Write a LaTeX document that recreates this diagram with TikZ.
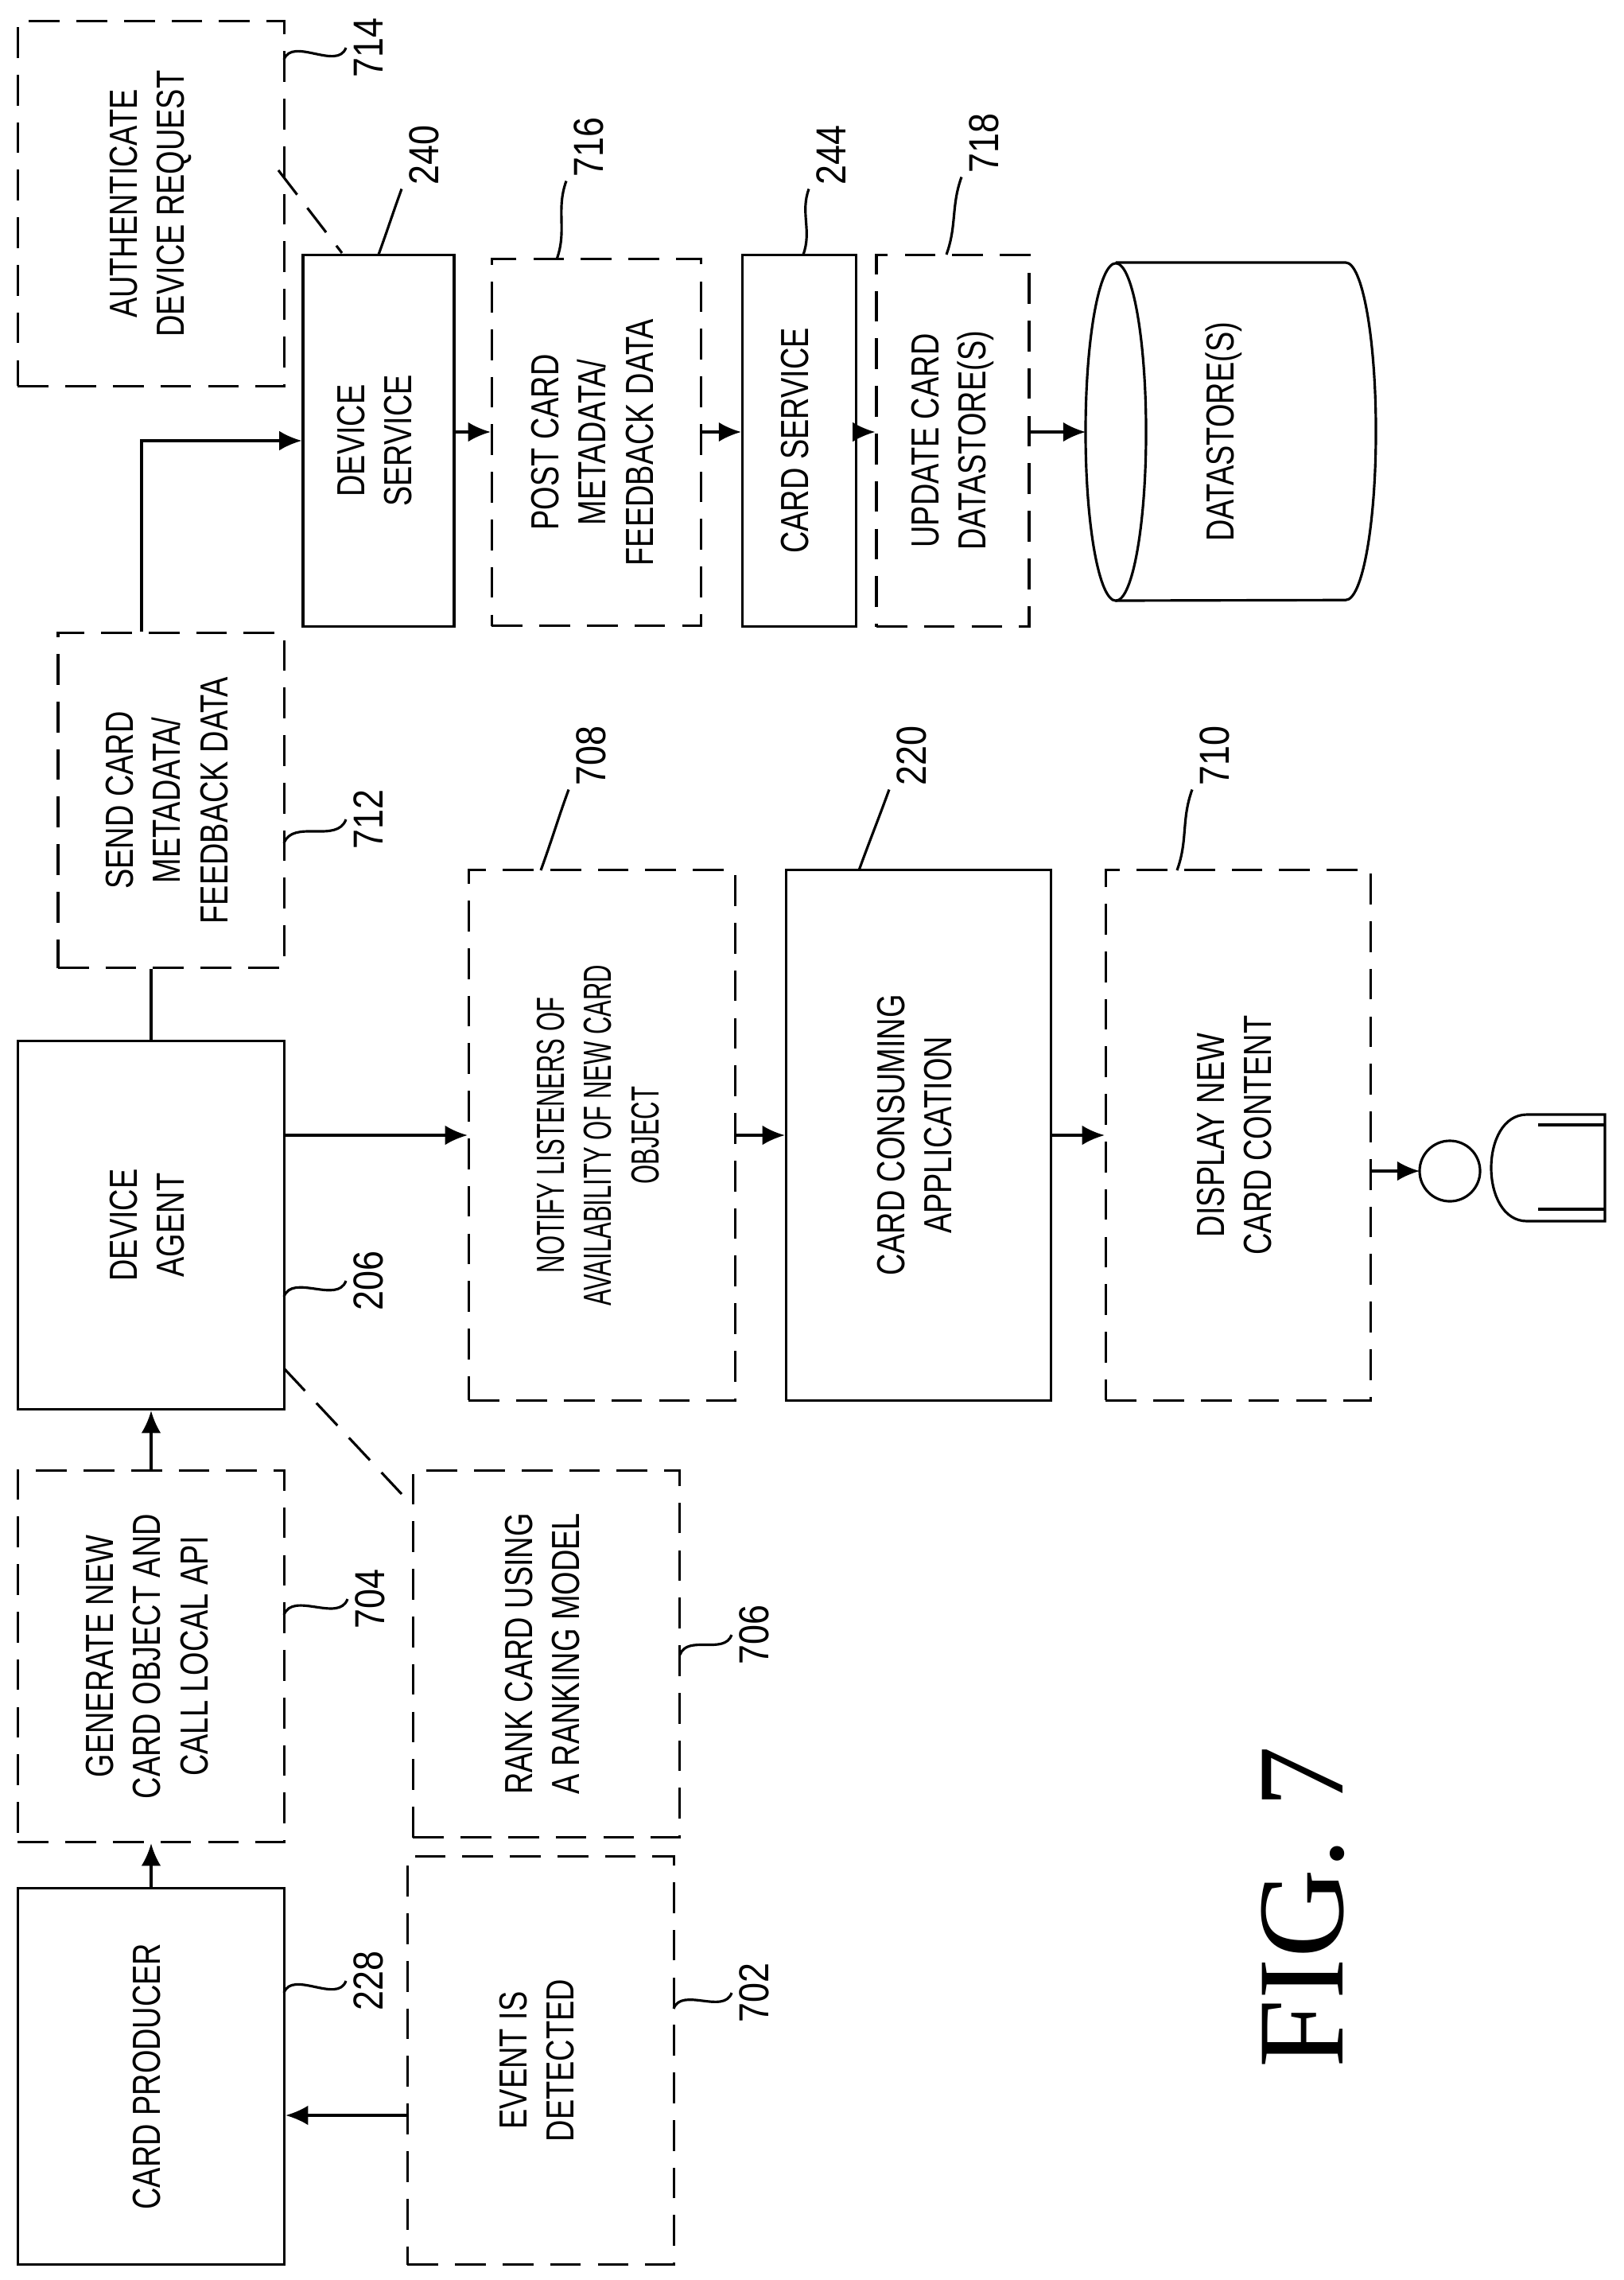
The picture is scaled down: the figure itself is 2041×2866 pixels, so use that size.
\documentclass[tikz,border=0pt]{standalone}
\usepackage{fontspec}
\setmainfont{Liberation Sans}[FakeStretch=0.77]
\newfontfamily\narrowfont{Liberation Sans}[FakeStretch=0.63]
\newfontfamily\numfont{Liberation Sans}[FakeStretch=0.85]
\newfontfamily\figfont{Liberation Serif}
\usetikzlibrary{positioning,calc,arrows.meta}
\newcommand{\vt}[1]{\rotatebox{90}{\begin{tabular}{@{}c@{}}#1\end{tabular}}}
\tikzset{
  box/.style={draw,line width=0.9pt,inner sep=0pt,font=\fontsize{14}{17}\selectfont},
  dbox/.style={box,dash pattern=on 11pt off 6pt},
  lbl/.style={inner sep=1pt,font=\numfont\fontsize{15}{17}\selectfont},
  lead/.style={line width=0.9pt},
  link/.style={line width=0.9pt,dash pattern=on 11pt off 6pt}
}
\begin{document}
\begin{tikzpicture}[x=0.01cm,y=-0.01cm,>={Latex[length=8pt,width=7pt]},line width=0.9pt]
  \useasboundingbox (0,0) rectangle (2041,2866);
  % left column
  \node[box,minimum width=3.35cm,minimum height=4.73cm] (prod) at (190,2610) {\vt{CARD PRODUCER}};
  \node[dbox,minimum width=3.35cm,minimum height=5.13cm] (event) at (680,2590) {\vt{EVENT IS\\DETECTED}};
  \node[dbox,minimum width=3.35cm,minimum height=4.67cm] (gen) at (190,2082) {\vt{GENERATE NEW\\CARD OBJECT AND\\CALL LOCAL API}};
  \node[dbox,minimum width=3.35cm,minimum height=4.61cm] (rank) at (687,2079) {\vt{RANK CARD USING\\A RANKING MODEL}};
  \node[box,minimum width=3.35cm,minimum height=4.63cm] (agent) at (190,1540) {\vt{DEVICE\\AGENT}};
  \node[dbox,minimum width=2.84cm,minimum height=4.21cm] (send) at (215,1006) {\vt{SEND CARD\\METADATA/\\FEEDBACK DATA}};
  \node[dbox,minimum width=3.35cm,minimum height=4.58cm] (auth) at (190,256) {\vt{AUTHENTICATE\\DEVICE REQUEST}};
  % middle row
  \node[dbox,minimum width=3.35cm,minimum height=6.66cm,font=\narrowfont\fontsize{14}{17}\selectfont] (notify) at (757,1427) {\vt{NOTIFY LISTENERS OF\\AVAILABILITY OF NEW CARD\\OBJECT}};
  \node[box,minimum width=3.33cm,minimum height=6.66cm] (app) at (1155,1427) {\vt{CARD CONSUMING\\APPLICATION}};
  \node[dbox,minimum width=3.33cm,minimum height=6.66cm] (show) at (1557,1427) {\vt{DISPLAY NEW\\CARD CONTENT}};
  % top row
  \node[box,minimum width=1.90cm,minimum height=4.67cm] (dsvc) at (476,554) {\vt{DEVICE\\SERVICE}};
  \node[dbox,minimum width=2.63cm,minimum height=4.61cm] (post) at (750,556) {\vt{POST CARD\\METADATA/\\FEEDBACK DATA}};
  \node[box,minimum width=1.43cm,minimum height=4.67cm] (csvc) at (1005,554) {\vt{CARD SERVICE}};
  \node[dbox,minimum width=1.92cm,minimum height=4.67cm] (upd) at (1198,554) {\vt{UPDATE CARD\\DATASTORE(S)}};
  % datastore cylinder
  \coordinate (ds) at (1365,543);
  \draw (1403,330) -- (1692,330) arc (90:-90:0.38cm and 2.12cm) -- (1403,755);
  \draw (1403,543) ellipse (0.38cm and 2.12cm);
  \node[inner sep=0pt,font=\fontsize{14}{17}\selectfont] (dstxt) at (1540,543) {\vt{DATASTORE(S)}};
  % user
  \draw (1823,1472) circle (0.38cm);
  \coordinate (user) at (1785,1472);
  \draw (2018,1401) -- (1920,1401) .. controls (1860,1401) and (1860,1535) .. (1920,1535) -- (2018,1535) -- cycle;
  \draw (1934,1414) -- (2018,1414);
  \draw (1934,1520) -- (2018,1520);
  % connectors
  \draw[->] (event.west |- 0,2659) -- (prod.east |- 0,2659);
  \draw[->] (prod) -- (gen);
  \draw[->] (gen) -- (agent);
  \draw (agent.north) -- (agent.north |- send.south);
  \draw[->] (send.north -| 178,0) |- (dsvc.west);
  \draw[->] (dsvc.east |- ds) -- (post.west |- ds);
  \draw[->] (post.east |- ds) -- (csvc.west |- ds);
  \draw[->] (csvc.east |- ds) -- (upd.west |- ds);
  \draw[->] (upd.east |- ds) -- (ds);
  \draw[->] (agent.east |- notify) -- (notify.west);
  \draw[->] (notify) -- (app);
  \draw[->] (app) -- (show);
  \draw[->] (show.east |- user) -- (user);
  \draw[link] (357,1720) -- (505,1878);
  \draw[link] (350,214) -- (430,318);
  % reference numerals
  \node[lbl] (n714) at (470,60) {\vt{714}};
  \node[lbl] (n240) at (540,195) {\vt{240}};
  \node[lbl] (n716) at (747,185) {\vt{716}};
  \node[lbl] (n244) at (1052,195) {\vt{244}};
  \node[lbl] (n718) at (1244,180) {\vt{718}};
  \node[lbl] (n712) at (470,1030) {\vt{712}};
  \node[lbl] (n708) at (750,950) {\vt{708}};
  \node[lbl] (n220) at (1153,950) {\vt{220}};
  \node[lbl] (n710) at (1534,950) {\vt{710}};
  \node[lbl] (n206) at (470,1610) {\vt{206}};
  \node[lbl] (n704) at (472,2010) {\vt{704}};
  \node[lbl] (n706) at (955,2055) {\vt{706}};
  \node[lbl] (n228) at (470,2490) {\vt{228}};
  \node[lbl] (n702) at (955,2505) {\vt{702}};
  \draw[lead] (357,75) to[out=70,in=250] (n714.west);
  \draw[lead] (476,320) to[out=70,in=250] (n240.south west);
  \draw[lead] (700,326) to[out=70,in=250] (n716.south west);
  \draw[lead] (1010,320) to[out=70,in=250] (n244.south west);
  \draw[lead] (1190,320) to[out=70,in=250] (n718.south west);
  \draw[lead] (357,1060) to[out=70,in=250] (n712.west);
  \draw[lead] (680,1094) to[out=70,in=250] (n708.south west);
  \draw[lead] (1080,1094) to[out=70,in=250] (n220.south west);
  \draw[lead] (1480,1094) to[out=70,in=250] (n710.south west);
  \draw[lead] (357,1630) to[out=70,in=250] (n206.west);
  \draw[lead] (357,2030) to[out=70,in=250] (n704.west);
  \draw[lead] (855,2080) to[out=70,in=250] (n706.west);
  \draw[lead] (357,2505) to[out=70,in=250] (n228.west);
  \draw[lead] (847,2525) to[out=70,in=250] (n702.west);
  \node[inner sep=0pt,font=\figfont\fontsize{44}{50}\selectfont] (fig) at (1638,2397) {\rotatebox{90}{FIG. 7}};
\end{tikzpicture}
\end{document}
